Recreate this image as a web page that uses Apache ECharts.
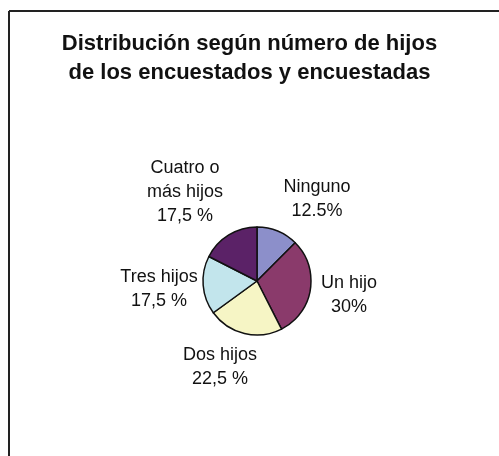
<!DOCTYPE html>
<html>
<head>
<meta charset="utf-8">
<script src="https://cdn.jsdelivr.net/npm/echarts@6/dist/echarts.min.js"></script>
<style>
html,body{margin:0;padding:0;background:#fff;}
#chart{width:499px;height:456px;}
</style>
</head>
<body>
<div id="chart"></div>
<script>
// datos
var categorias = ['Ninguno', 'Un hijo', 'Dos hijos', 'Tres hijos', 'Cuatro o\nmás hijos'];
var porcentajes = [12.5, 30, 22.5, 17.5, 17.5];
var etiquetas = ['12.5%', '30%', '22,5 %', '17,5 %', '17,5 %'];

var colores = ['#8c8fca', '#8a3a6b', '#f6f5c5', '#c2e5ec', '#5b2267'];
// desplazamiento de cada etiqueta respecto al centro de la tarta
var posEtiqueta = [[60, -82], [92, 14], [-37, 86], [-98, 8], [-72, -89]];
var centro = [257, 281];

var myChart = echarts.init(document.getElementById('chart'));

var datos = categorias.map(function (c, i) {
    return {name: c, value: porcentajes[i], itemStyle: {color: colores[i]}};
});

var option = {
    backgroundColor: '#fff',
    animation: false,
    title: {
        text: 'Distribución según número de hijos\nde los encuestados y encuestadas',
        left: 'center',
        top: 24,
        textStyle: {
            fontFamily: 'Liberation Sans',
            fontSize: 22,
            fontWeight: 'bold',
            lineHeight: 29,
            color: '#111',
            align: 'center'
        }
    },
    // marco
    graphic: [
        {type: 'line', shape: {x1: 9, y1: 11, x2: 499, y2: 11}, style: {stroke: '#222', lineWidth: 2}},
        {type: 'line', shape: {x1: 9, y1: 11, x2: 9, y2: 456}, style: {stroke: '#222', lineWidth: 2}}
    ],
    series: [
        {
            type: 'pie',
            center: centro,
            radius: 54,
            startAngle: 90,
            clockwise: true,
            avoidLabelOverlap: false,
            itemStyle: {borderColor: '#111', borderWidth: 1.5},
            label: {
                show: true,
                position: 'outside',
                fontFamily: 'Liberation Sans',
                fontSize: 18,
                lineHeight: 24,
                color: '#111',
                align: 'center',
                formatter: function (p) {
                    return p.name + '\n' + etiquetas[p.dataIndex];
                }
            },
            labelLine: {show: false},
            labelLayout: function (params) {
                var o = posEtiqueta[params.dataIndex];
                return {
                    x: centro[0] + o[0],
                    y: centro[1] + o[1],
                    align: 'center',
                    verticalAlign: 'middle'
                };
            },
            emphasis: {disabled: true},
            data: datos
        }
    ]
};
myChart.setOption(option);
</script>
</body>
</html>
